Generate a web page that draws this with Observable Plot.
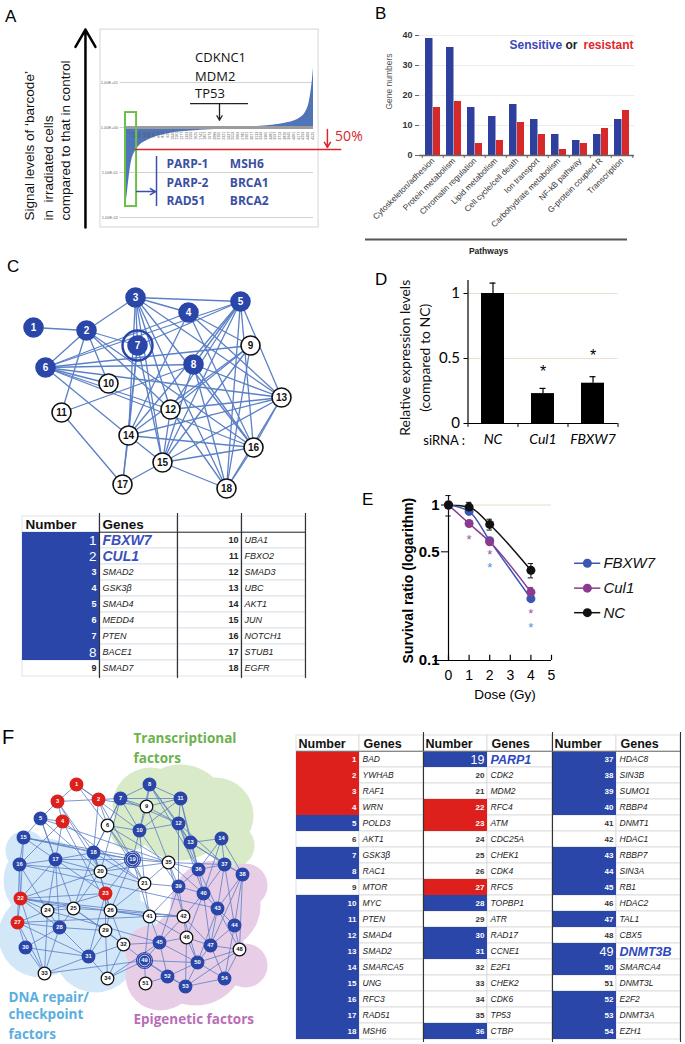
<!DOCTYPE html>
<html><head><meta charset="utf-8">
<script src="https://cdn.jsdelivr.net/npm/d3@7"></script>
<script src="https://cdn.jsdelivr.net/npm/@observablehq/plot@0.6"></script>
<style>
body{margin:0;background:#fff;}
#root{position:relative;width:685px;height:1044px;overflow:hidden;font-family:'Liberation Sans',Arial,sans-serif;}
.lbl{position:absolute;line-height:1;color:#000;font-family:'Liberation Sans',Arial,sans-serif;}
</style></head>
<body><div id="root"></div>
<script>
// ---------------- DATA ----------------
// Panel A: sorted signal ratios (irradiated / control), position along gene rank (0-100)
const aPos   = [0, 0.8, 1.6, 2.5, 3.5, 4.5, 5.5, 7, 9, 12, 16, 22, 30, 40, 50, 60, 68, 75, 81, 86, 90, 93, 95, 96.5, 97.7, 98.6, 99.3, 100];
const aRatio = [0.018, 0.03, 0.06, 0.12, 0.2, 0.26, 0.31, 0.38, 0.45, 0.53, 0.62, 0.72, 0.8, 0.87, 0.92, 0.97, 1.03, 1.1, 1.17, 1.27, 1.42, 1.65, 1.95, 2.5, 3.6, 6, 10, 21];
const aGridVals = [10, 1, 0.1, 0.01];
const aGridLabels = ["1.00E+01", "1.00E+00", "1.00E-01", "1.00E-02"];
const aIdxLabels = ["1","117","233","349","465","581","697","813","929","1045","1161","1277","1393","1509","1625","1741","1857","1973","2089","2205","2321","2437","2553","2669","2785","2901","3017","3133","3249","3365","3481","3597","3713","3829","3945","4061","4177","4293","4409","4525"];
const aTopGenes = ["CDKNC1", "MDM2", "TP53"];
const aLowGenes = ["PARP-1", "PARP-2", "RAD51", "MSH6", "BRCA1", "BRCA2"];
const aAxisTitle = ["Signal levels of \u2018barcode\u2019", "in  irradiated cells", "compared to that in control"];

// Panel B
const bPathways = ["Cytoskeleton/adhesion","Protein metabolism","Chromatin regulation","Lipid metabolism","Cell cycle/cell death","Ion transport","Carbohydrate metabolism","NF-kB pathway","G-protein coupled R","Transcription"];
const bSensitive = [39, 36, 16, 13, 17, 12, 7, 5, 7, 12];
const bResistant = [16, 18, 4, 5, 11, 7, 2, 4, 9, 15];

// Panel C: network layout (node coordinates) and edges
const cNodeX = [33, 86, 135, 188, 240, 45, 137, 193, 250, 108, 61, 170, 281, 128, 162, 253, 122, 226];
const cNodeY = [327, 330, 297, 312, 301, 367, 345, 364, 345, 383, 412, 409, 397, 435, 462, 447, 484, 488];
const cEdges = [[1,2],[2,3],[2,6],[2,7],[2,10],[2,11],[2,12],[2,16],[3,5],[3,4],[3,7],[3,12],[3,13],[3,15],[3,16],[3,18],[3,14],[4,6],[4,9],[4,14],[4,16],[4,13],[5,6],[5,7],[5,8],[5,12],[5,13],[5,14],[5,15],[5,16],[5,18],[6,8],[6,9],[6,10],[6,13],[6,14],[6,16],[6,12],[7,14],[7,15],[7,17],[8,11],[8,13],[8,15],[8,16],[8,18],[9,12],[9,14],[9,15],[9,18],[11,17],[12,13],[12,15],[12,18],[13,14],[13,15],[13,16],[13,18],[14,15],[14,16],[14,17],[15,16],[15,17],[15,18],[16,18]];
const cGenes = ["FBXW7","CUL1","SMAD2","GSK3\u03b2","SMAD4","MEDD4","PTEN","BACE1","SMAD7","UBA1","FBXO2","SMAD3","UBC","AKT1","JUN","NOTCH1","STUB1","EGFR"];
const cClass = "SSSSSSSSNNNNNNNNNN".split("");   // S = sensitive, N = not
const cHighlight = [1, 2];
const cRinged = [7];
const cBigNumbers = [1, 2, 8];

// Panel D
const dGroups = ["NC", "Cul1", "FBXW7"];
const dMean = [1.0, 0.23, 0.31];
const dErr = [0.08, 0.04, 0.05];
const dStar = [null, 0.43, 0.55];

// Panel E
const eDose = [0, 1, 2, 4];
const eSeries = ["FBXW7", "Cul1", "NC"];
const eFBXW7 = [1, 0.91, 0.59, 0.25];
const eCul1 = [1, 0.76, 0.58, 0.275];
const eNC = [1, 0.97, 0.75, 0.38];
const eNCerr = [0.15, 0.07, 0.06, 0.04];
const eCul1err = [0, 0, 0, 0.02];
const eStarDose = [1, 2, 2, 4, 4];
const eStarY = [0.62, 0.5, 0.41, 0.21, 0.17];
const eStarSeries = ["Cul1", "Cul1", "FBXW7", "Cul1", "FBXW7"];

// Panel F
const fGenes = ["BAD","YWHAB","RAF1","WRN","POLD3","AKT1","GSK3\u03b2","RAC1","MTOR","MYC","PTEN","SMAD4","SMAD2","SMARCA5","UNG","RFC3","RAD51","MSH6",
  "PARP1","CDK2","MDM2","RFC4","ATM","CDC25A","CHEK1","CDK4","RFC5","TOPBP1","ATR","RAD17","CCNE1","E2F1","CHEK2","CDK6","TP53","CTBP",
  "HDAC8","SIN3B","SUMO1","RBBP4","DNMT1","HDAC1","RBBP7","SIN3A","RB1","HDAC2","TAL1","CBX5","DNMT3B","SMARCA4","DNMT3L","E2F2","DNMT3A","EZH1"];
const fClass = ("RRRRSNSSNSSSSSSSSS" + "SNNRRNNNRSNSSNNNNS" + "SSSSNNSSSNSNSSNSSS").split(""); // R resistant, S sensitive, N none
const fHighlight = [19, 49];
const fNodeX = [76, 98, 57, 62, 40, 107, 120, 149, 146, 139, 180, 178, 190, 221, 23, 19, 55, 93, 132, 100, 144, 20, 105, 47, 73, 110, 17, 59, 105, 25, 88, 123, 44, 107, 168, 198, 224, 242, 178, 203, 149, 183, 217, 234, 159, 186, 210, 239, 144, 197, 145, 167, 185, 224];
const fNodeY = [784, 799, 801, 821, 818, 825, 798, 784, 806, 830, 798, 823, 842, 838, 837, 864, 859, 852, 859, 871, 883, 898, 893, 910, 908, 910, 922, 927, 930, 947, 956, 944, 973, 978, 862, 869, 864, 874, 886, 893, 916, 916, 908, 925, 942, 937, 945, 949, 960, 962, 983, 976, 986, 978];
const fEdges = [[1,2],[1,3],[1,6],[1,10],[2,3],[2,7],[2,6],[2,9],[2,19],[2,18],[3,4],[3,5],[3,18],[3,20],[4,5],[4,17],[4,16],[4,21],[4,26],[5,15],[5,17],[5,20],[5,35],[5,25],
[6,7],[6,19],[6,21],[6,35],[6,10],[6,18],[7,8],[7,9],[7,10],[7,11],[7,12],[7,18],[7,20],[8,9],[8,11],[8,12],[8,10],[8,13],[8,36],[9,11],[9,12],[9,10],[9,35],[10,11],[10,12],[10,19],[10,21],[10,39],[11,12],[11,13],[11,36],[12,13],[12,36],[12,39],[12,40],[12,37],[13,36],[13,14],[13,37],[13,38],[14,37],[14,38],[14,36],[14,40],
[15,16],[15,17],[15,22],[15,18],[15,19],[16,17],[16,22],[16,24],[16,20],[16,27],[17,18],[17,20],[17,23],[17,24],[17,28],[17,19],[17,22],[18,19],[18,20],[18,21],[18,23],[18,25],[18,26],[19,20],[19,21],[19,35],[19,26],[19,23],[19,41],[20,22],[20,25],[20,21],[20,35],[21,35],[21,41],[21,39],[21,26],[22,23],[22,24],[22,27],[22,28],[22,25],[22,33],[22,41],[23,26],[23,24],[23,29],[23,31],[24,27],[24,28],[24,25],[24,33],[25,26],[25,28],[25,29],[25,32],[26,41],[26,32],[26,29],[26,42],[27,28],[27,30],[27,33],[27,31],[28,31],[28,33],[28,29],[28,30],[29,32],[29,31],[29,34],[30,33],[30,31],[31,33],[31,34],[31,32],[32,34],[32,45],[32,49],[34,49],[34,45],
[35,36],[35,39],[35,40],[35,42],[35,37],[36,37],[36,40],[36,43],[36,39],[37,38],[37,43],[37,40],[37,44],[38,43],[38,44],[38,48],[38,47],[39,40],[39,42],[39,45],[39,41],[40,43],[40,42],[40,46],[40,47],[41,42],[41,45],[41,49],[41,46],[42,46],[42,45],[42,47],[42,50],[43,44],[43,47],[43,48],[43,50],[44,48],[44,47],[44,54],[45,49],[45,46],[45,50],[45,52],[46,47],[46,50],[46,53],[47,48],[47,50],[47,54],[48,54],[48,50],[48,53],[49,51],[49,52],[49,53],[49,50],[50,52],[50,53],[50,54],[51,52],[52,53],[53,54],[16,43],[22,42],[27,41],[15,35],[24,45],[33,49]];
const fGroupLabels = ["Transcriptional", "factors", "DNA repair/", "checkpoint", "factors", "Epigenetic factors"];

// ---------------- STYLE / LAYOUT ----------------
const root = document.getElementById("root");
const FONT = "'Liberation Sans', Arial, sans-serif";
const OPEN = "'Open Sans', sans-serif";
const base = {fontFamily: FONT, background: "transparent", overflow: "visible"};
const BLUE = "#2a46a8", RED = "#dd201c", EDGE = "#5b80c6";
const clsFill = c => c === "S" ? BLUE : c === "R" ? RED : "#fff";
function place(svg, left, top) {
  svg.style.position = "absolute"; svg.style.left = left + "px"; svg.style.top = top + "px";
  root.appendChild(svg);
}
function letter(t, left, top, size) {
  const d = document.createElement("div"); d.className = "lbl"; d.textContent = t;
  d.style.left = left + "px"; d.style.top = top + "px"; d.style.fontSize = size + "px";
  root.appendChild(d);
}

// ---------------- PANEL A ----------------
const aData = aPos.map((p, i) => ({pos: p, ratio: aRatio[i]}));
place(Plot.plot({
  width: 345, height: 240, marginLeft: 125, marginRight: 32, marginTop: 37, marginBottom: 23,
  x: {domain: [0, 100], axis: null},
  y: {type: "log", domain: [0.01, 100], axis: null},
  style: base,
  marks: [
    Plot.rect([0], {x1: -13.3, x2: 102.7, y1: 0.006, y2: 150, fill: "none", stroke: "#d4d4d4"}),
    Plot.ruleY(aGridVals, {x1: -3, x2: 100, stroke: "#c6c6c6", strokeWidth: 0.8}),
    Plot.text(aGridVals, {x: -4, y: d => d, text: (d, i) => aGridLabels[i], textAnchor: "end", fontSize: 4, fill: "#666"}),
    Plot.areaY(aData, {x: "pos", y1: 1, y2: "ratio", fill: "#4f74b8", curve: "monotone-x"}),
    Plot.ruleY([1], {x1: 0, x2: 100, stroke: "#9c9c9c", strokeWidth: 3}),
    Plot.text(aIdxLabels, {x: (d, i) => 2.7 + i * 2.48, y: 0.8, text: d => d, rotate: -90, textAnchor: "end", fontSize: 3.6, fill: "#555"}),
    Plot.rect([0], {x1: 0, x2: 5.9, y1: 0.0175, y2: 2.15, fill: "none", stroke: "#6cc04a", strokeWidth: 2}),
    Plot.ruleY([0.325], {x1: 5.3, x2: 115, stroke: "#d9262b", strokeWidth: 1.5}),
    Plot.arrow([0], {x1: 107.4, y1: 0.9, x2: 107.4, y2: 0.36, stroke: "#d9262b", strokeWidth: 1.5, headLength: 7}),
    Plot.text(["50%"], {x: 111.5, y: 0.63, text: d => d, fill: "#d9262b", fontSize: 14, textAnchor: "start", fontFamily: OPEN}),
    Plot.text(aTopGenes, {x: 37, y: (d, i) => [36, 13.6, 5.6][i], text: d => d, textAnchor: "start", fontSize: 13, fontFamily: OPEN, fill: "#111"}),
    Plot.ruleY([3.4], {x1: 34.6, x2: 65.4, stroke: "#222", strokeWidth: 1.3}),
    Plot.arrow([0], {x1: 50, y1: 3.4, x2: 50, y2: 1.45, stroke: "#222", strokeWidth: 1.3, headLength: 6}),
    Plot.arrow([0], {x1: 5.9, y1: 0.0377, x2: 16, y2: 0.0377, stroke: "#3a50a8", strokeWidth: 1.5, headLength: 6}),
    Plot.ruleX([16.5], {y1: 0.0175, y2: 0.227, stroke: "#3a50a8", strokeWidth: 1.5}),
    Plot.text(aLowGenes, {x: (d, i) => i < 3 ? 21.8 : 55.5, y: (d, i) => [0.15, 0.058, 0.023][i % 3], text: d => d, textAnchor: "start", fontSize: 12, fontWeight: "bold", fontFamily: OPEN, fill: "#3a4fa3"}),
    Plot.text(aAxisTitle, {x: (d, i) => [-51.1, -41, -31.9][i], y: 0.0086, text: d => d, rotate: -90, textAnchor: "start", fontSize: 13.5, fill: "#111"}),
    Plot.arrow([0], {x1: -21.3, y1: 0.006, x2: -21.3, y2: 150, stroke: "#000", strokeWidth: 2.5, headLength: 12})
  ]
}), 0, 0);

// ---------------- PANEL B ----------------
const bData = bPathways.map((p, i) => ({p, s: bSensitive[i], r: bResistant[i]}));
place(Plot.plot({
  width: 340, height: 270, marginLeft: 74, marginRight: 51, marginTop: 35, marginBottom: 115,
  x: {domain: bPathways, padding: 0},
  y: {domain: [0, 40]},
  style: base,
  marks: [
    Plot.ruleY([10, 20, 30, 40], {stroke: "#ececec"}),
    Plot.barY(bData, {x: "p", y: "s", fill: "#2e3f9e", insetLeft: 3, insetRight: 10.5}),
    Plot.barY(bData, {x: "p", y: "r", fill: "#d62a2a", insetLeft: 11, insetRight: 3}),
    Plot.ruleY([0], {stroke: "#666", strokeWidth: 1.5}),
    Plot.ruleX(bPathways, {x: d => d, y1: 0, y2: -1, dx: -10.75, stroke: "#666"}),
    Plot.ruleX([bPathways[bPathways.length - 1]], {x: d => d, y1: 0, y2: -1, dx: 10.75, stroke: "#666"}),
    Plot.axisY({ticks: [0, 10, 20, 30, 40], tickSize: 4, tickPadding: 3, fontSize: 9, fontWeight: "bold", label: null, stroke: "#666", fill: "#333"}),
    Plot.axisX({tickRotate: -45, tickSize: 0, tickPadding: 4, fontSize: 8.2, label: null, fill: "#333"}),
    Plot.text(["Gene numbers"], {frameAnchor: "left", dx: -30, dy: -14, rotate: -90, textAnchor: "middle", fontSize: 8.5, fill: "#555"}),
    Plot.text(["Sensitive"], {frameAnchor: "top-left", dx: 90, dy: 10, textAnchor: "start", lineAnchor: "middle", fontSize: 12, fontWeight: "bold", fill: "#3a48b8"}),
    Plot.text(["or"], {frameAnchor: "top-left", dx: 146, dy: 10, textAnchor: "start", lineAnchor: "middle", fontSize: 12, fontWeight: "bold", fill: "#222"}),
    Plot.text(["resistant"], {frameAnchor: "top-left", dx: 164, dy: 10, textAnchor: "start", lineAnchor: "middle", fontSize: 12, fontWeight: "bold", fill: "#e0262a"}),
    Plot.ruleY([0], {dy: 84, insetLeft: -54, insetRight: 7, stroke: "#555", strokeWidth: 2}),
    Plot.text(["Pathways"], {frameAnchor: "bottom", dx: -38.5, dy: 98, fontSize: 8.5, fontWeight: "bold", fill: "#222"})
  ]
}), 345, 0);

// ---------------- PANEL C network ----------------
const cNodes = cNodeX.map((x, i) => ({id: i + 1, x, y: cNodeY[i], cls: cClass[i]}));
place(Plot.plot({
  width: 340, height: 225, margin: 0,
  x: {domain: [0, 340], range: [0, 340], axis: null},
  y: {domain: [280, 505], range: [0, 225], axis: null},
  style: base,
  marks: [
    Plot.link(cEdges, {x1: d => cNodeX[d[0] - 1], y1: d => cNodeY[d[0] - 1], x2: d => cNodeX[d[1] - 1], y2: d => cNodeY[d[1] - 1], stroke: EDGE, strokeWidth: 1.3}),
    Plot.dot(cNodes, {x: "x", y: "y", r: 9.5, fill: d => clsFill(d.cls), stroke: d => d.cls === "S" ? BLUE : "#111", strokeWidth: 1.6}),
    Plot.dot(cNodes.filter(d => cRinged.includes(d.id)), {x: "x", y: "y", r: 15, fill: "none", stroke: BLUE, strokeWidth: 2.5}),
    Plot.text(cNodes, {x: "x", y: "y", text: "id", fontSize: 10, fontWeight: "bold", fill: d => d.cls === "S" ? "#fff" : "#111"})
  ]
}), 0, 280);

// ---------------- PANEL C table ----------------
const cCol = [0, 77, 155, 219, 283];
const cCells = cGenes.map((g, i) => ({n: i + 1, g, cls: cClass[i], grp: Math.floor(i / 9), row: i % 9 + 1}));
const cGrid = [];
for (let r = 0; r < 10; r++) for (let c = 0; c < 4; c++) cGrid.push({r, c});
place(Plot.plot({
  width: 283, height: 165, margin: 0,
  x: {domain: [0, 283], range: [0, 283], axis: null},
  y: {type: "band", domain: d3.range(10), padding: 0, axis: null},
  style: base,
  marks: [
    Plot.barX(cGrid, {x1: d => cCol[d.c], x2: d => cCol[d.c + 1], y: "r", fill: "#fff", stroke: "#d4dbe8", strokeWidth: 0.8}),
    Plot.barX(cCells.filter(d => d.cls === "S"), {x1: d => cCol[2 * d.grp], x2: d => cCol[2 * d.grp + 1], y: "row", fill: BLUE}),
    Plot.ruleX([77, 155, 219, 283], {stroke: "#333", strokeWidth: 1.2}),
    Plot.ruleY([1], {dy: -8.25, x1: 77, x2: 283, stroke: "#333", strokeWidth: 1.2}),
    Plot.text(["Number", "Genes"], {x: (d, i) => i === 0 ? 3 : 80, y: 0, text: d => d, textAnchor: "start", fontSize: 13.5, fontWeight: "bold", fill: "#111"}),
    Plot.text(cCells.filter(d => !cBigNumbers.includes(d.n)), {x: d => cCol[2 * d.grp + 1] - 3, y: "row", text: "n", textAnchor: "end", fontSize: 9, fontWeight: "bold", fill: d => d.cls === "S" ? "#fff" : "#222"}),
    Plot.text(cCells.filter(d => cBigNumbers.includes(d.n)), {x: d => cCol[2 * d.grp + 1] - 3, y: "row", text: "n", textAnchor: "end", fontSize: 13.5, fill: "#fff"}),
    Plot.text(cCells.filter(d => !cHighlight.includes(d.n)), {x: d => cCol[2 * d.grp + 1] + 3, y: "row", text: "g", textAnchor: "start", fontSize: 9, fontStyle: "italic", fill: "#222"}),
    Plot.text(cCells.filter(d => cHighlight.includes(d.n)), {x: d => cCol[2 * d.grp + 1] + 3, y: "row", text: "g", textAnchor: "start", fontSize: 14, fontStyle: "italic", fontWeight: "bold", fill: "#3a4fc0"})
  ]
}), 22, 513);

// ---------------- PANEL D ----------------
const dData = dGroups.map((g, i) => ({g, m: dMean[i], e: dErr[i], s: dStar[i]}));
place(Plot.plot({
  width: 345, height: 190, marginLeft: 127.5, marginRight: 67.5, marginTop: 3.5, marginBottom: 37,
  x: {domain: dGroups, paddingInner: 0.54, paddingOuter: 0.27, axis: null},
  y: {domain: [0, 1.15]},
  style: {...base, fontFamily: "Lato, 'Open Sans', sans-serif"},
  marks: [
    Plot.ruleY([0.5, 1], {stroke: "#e9e2c9"}),
    Plot.barY(dData, {x: "g", y: "m", fill: "#000"}),
    Plot.ruleX(dData, {x: "g", y1: "m", y2: d => d.m + d.e, stroke: "#000", strokeWidth: 1.2}),
    Plot.tickY(dData, {x: "g", y: d => d.m + d.e, insetLeft: 8.5, insetRight: 8.5, strokeWidth: 1.2}),
    Plot.text(dData.filter(d => d.s != null), {x: "g", y: "s", text: () => "*", fontSize: 16, dy: 4, fontFamily: FONT}),
    Plot.ruleY([0], {stroke: "#000", strokeWidth: 1.2}),
    Plot.ruleX([dGroups[0]], {x: d => d, y1: 0, y2: 1.1, dx: -25, stroke: "#000", strokeWidth: 1.2}),
    Plot.ruleX(dGroups, {x: d => d, y1: 0, y2: -0.03, dx: -25, stroke: "#000"}),
    Plot.ruleX([dGroups[2]], {x: d => d, y1: 0, y2: -0.03, dx: 25, stroke: "#000"}),
    Plot.axisY({ticks: [0, 0.5, 1], tickFormat: d => String(d), tickSize: 4, tickPadding: 4, fontSize: 15, label: null}),
    Plot.text(dGroups, {x: d => d, frameAnchor: "bottom", dy: 20, text: d => d, fontStyle: "italic", fontSize: 14}),
    Plot.text(["siRNA :"], {frameAnchor: "bottom-left", dx: -3, dy: 21, textAnchor: "end", fontSize: 13}),
    Plot.text(["Relative expression levels"], {frameAnchor: "left", dx: -62, dy: 9, rotate: -90, textAnchor: "middle", fontSize: 14, fill: "#111"}),
    Plot.text(["(compared to NC)"], {frameAnchor: "left", dx: -42, dy: 9, rotate: -90, textAnchor: "middle", fontSize: 14, fill: "#111"})
  ]
}), 340, 270);

// ---------------- PANEL E ----------------
const eVals = {FBXW7: eFBXW7, Cul1: eCul1, NC: eNC};
const eColor = {FBXW7: "#3b55b5", Cul1: "#8a3a8f", NC: "#111"};
const eLong = eSeries.flatMap(s => eDose.map((d, i) => ({s, dose: d, v: eVals[s][i]})));
const eErrs = [
  ...eDose.map((d, i) => ({s: "NC", dose: d, v: eNC[i], e: eNCerr[i]})),
  ...eDose.map((d, i) => ({s: "Cul1", dose: d, v: eCul1[i], e: eCul1err[i]})).filter(d => d.e > 0)
];
const eStars = eStarDose.map((d, i) => ({dose: d, y: eStarY[i], s: eStarSeries[i]}));
const eLegY = [0.422, 0.292, 0.203];
place(Plot.plot({
  width: 345, height: 230, marginLeft: 108, marginRight: 134, marginTop: 12.2, marginBottom: 50,
  x: {domain: [0, 5]},
  y: {type: "log", domain: [0.1, 1.2]},
  style: base,
  marks: [
    Plot.ruleY([1], {x1: 0, x2: 5, stroke: "#e6dfc6"}),
    Plot.ruleX([0], {y1: 0.1, y2: 1.13, stroke: "#000", strokeWidth: 1.2}),
    Plot.ruleY([0.1], {x1: -0.68, x2: 5, stroke: "#000", strokeWidth: 1.2}),
    Plot.ruleX([0, 1, 2, 3, 4, 5], {y1: 0.1, y2: 0.108, stroke: "#000", strokeWidth: 1.2}),
    Plot.axisY({ticks: [0.1, 0.5, 1], tickFormat: d => String(d), tickSize: 7, tickPadding: 2, fontSize: 15, fontWeight: "bold", label: null}),
    Plot.axisX({ticks: [0, 1, 2, 3, 4, 5], tickFormat: d => String(d), tickSize: 0, tickPadding: 10, fontSize: 14, label: null}),
    Plot.ruleX(eErrs, {x: "dose", y1: d => d.v - d.e, y2: d => d.v + d.e, stroke: d => eColor[d.s], strokeWidth: 1}),
    Plot.ruleY(eErrs, {y: d => d.v + d.e, x1: d => d.dose - 0.13, x2: d => d.dose + 0.13, stroke: d => eColor[d.s], strokeWidth: 1}),
    Plot.ruleY(eErrs, {y: d => d.v - d.e, x1: d => d.dose - 0.13, x2: d => d.dose + 0.13, stroke: d => eColor[d.s], strokeWidth: 1}),
    Plot.line(eLong.filter(d => d.s === "NC"), {x: "dose", y: "v", stroke: eColor.NC, strokeWidth: 1.5, curve: "monotone-x"}),
    Plot.line(eLong.filter(d => d.s === "FBXW7"), {x: "dose", y: "v", stroke: eColor.FBXW7, strokeWidth: 1.5, curve: "monotone-x"}),
    Plot.line(eLong.filter(d => d.s === "Cul1"), {x: "dose", y: "v", stroke: eColor.Cul1, strokeWidth: 1.5, curve: "monotone-x"}),
    Plot.dot(eLong, {x: "dose", y: "v", r: 4.5, fill: d => eColor[d.s]}),
    Plot.text(eStars, {x: "dose", y: "y", text: () => "*", fill: d => d.s === "Cul1" ? "#9a4fb0" : "#4a90d9", fontSize: 13, dy: 3}),
    Plot.ruleY(eSeries, {y: (d, i) => eLegY[i], x1: 6.12, x2: 7.39, stroke: d => eColor[d], strokeWidth: 1.5}),
    Plot.dot(eSeries, {x: 6.74, y: (d, i) => eLegY[i], r: 4.5, fill: d => eColor[d]}),
    Plot.text(eSeries, {x: 7.52, y: (d, i) => eLegY[i], text: d => d, textAnchor: "start", fontStyle: "italic", fontSize: 15, fill: "#111"}),
    Plot.text(["Dose (Gy)"], {frameAnchor: "bottom", dx: 5, dy: 38, fontSize: 13.5}),
    Plot.text(["Survival ratio (logarithm)"], {frameAnchor: "left", dx: -40, dy: 4, rotate: -90, textAnchor: "middle", fontSize: 14, fontWeight: "bold"})
  ]
}), 340, 480);

// ---------------- PANEL F network ----------------
const fNodes = fNodeX.map((x, i) => ({id: i + 1, x, y: fNodeY[i], cls: fClass[i]}));
const blobs = [
  ...[[180, 812, 48], [150, 805, 38], [215, 815, 38], [232, 845, 22], [130, 830, 20]].map(b => ({b, c: "#d8eac7"})),
  ...[[45, 880, 42], [40, 935, 42], [90, 900, 50], [95, 950, 42], [128, 925, 28], [25, 850, 20]].map(b => ({b, c: "#d2e7f8"})),
  ...[[215, 905, 45], [195, 955, 50], [160, 975, 35], [245, 965, 22], [245, 885, 22], [150, 950, 25]].map(b => ({b, c: "#e8cde7"}))
];
const fLabelPos = [[133, 738.5, "#6cb24e"], [133, 758, "#6cb24e"], [8, 997, "#5aaee0"], [8, 1014, "#5aaee0"], [8, 1034, "#5aaee0"], [133, 1019, "#b96db9"]];
place(Plot.plot({
  width: 290, height: 324, margin: 0,
  x: {domain: [0, 290], range: [0, 290], axis: null},
  y: {domain: [720, 1044], range: [0, 324], axis: null},
  r: {type: "identity"},
  style: base,
  marks: [
    Plot.dot(blobs, {x: d => d.b[0], y: d => d.b[1], r: d => d.b[2], fill: d => d.c}),
    Plot.link(fEdges, {x1: d => fNodeX[d[0] - 1], y1: d => fNodeY[d[0] - 1], x2: d => fNodeX[d[1] - 1], y2: d => fNodeY[d[1] - 1], stroke: EDGE, strokeWidth: 0.9, strokeOpacity: 0.9}),
    Plot.dot(fNodes, {x: "x", y: "y", r: 6.3, fill: d => clsFill(d.cls), stroke: d => d.cls === "N" ? "#111" : clsFill(d.cls), strokeWidth: 1.3}),
    Plot.dot(fNodes.filter(d => fHighlight.includes(d.id)), {x: "x", y: "y", r: 5.2, fill: "none", stroke: "#fff", strokeWidth: 0.7}),
    Plot.dot(fNodes.filter(d => fHighlight.includes(d.id)), {x: "x", y: "y", r: 8, fill: "none", stroke: BLUE, strokeWidth: 1.2}),
    Plot.text(fNodes, {x: "x", y: "y", text: "id", fontSize: 5.8, fontWeight: "bold", fill: d => d.cls === "N" ? "#111" : "#fff"}),
    Plot.text(fGroupLabels, {x: (d, i) => fLabelPos[i][0], y: (d, i) => fLabelPos[i][1], text: d => d, fill: (d, i) => fLabelPos[i][2], textAnchor: "start", fontSize: 13.5, fontWeight: "bold", fontFamily: OPEN})
  ]
}), 0, 720);

// ---------------- PANEL F table ----------------
const fCol = [0, 63, 127, 191, 256, 320, 384];
const fCells = fGenes.map((g, i) => ({n: i + 1, g, cls: fClass[i], grp: Math.floor(i / 18), row: i % 18 + 1}));
const fGrid = [];
for (let r = 0; r < 19; r++) for (let c = 0; c < 6; c++) fGrid.push({r, c});
place(Plot.plot({
  width: 386, height: 310, margin: 0,
  x: {domain: [0, 386], range: [0, 386], axis: null},
  y: {type: "band", domain: d3.range(19), padding: 0, axis: null},
  style: base,
  marks: [
    Plot.barX(fGrid, {x1: d => fCol[d.c], x2: d => fCol[d.c + 1], y: "r", fill: "#fff", stroke: "#d8d8d8", strokeWidth: 0.8}),
    Plot.barX(fCells.filter(d => d.cls !== "N"), {x1: d => fCol[2 * d.grp], x2: d => fCol[2 * d.grp + 1], y: "row", fill: d => clsFill(d.cls)}),
    Plot.ruleX([127, 256, 384], {stroke: "#333", strokeWidth: 1.1}),
    Plot.ruleY([1], {dy: -8.15, x1: 0, x2: 384, stroke: "#777", strokeWidth: 1}),
    Plot.text([0, 1, 2, 3, 4, 5], {x: d => fCol[d] + (d % 2 ? 4 : 2), y: 0, text: d => d % 2 ? "Genes" : "Number", textAnchor: "start", fontSize: 12.5, fontWeight: "bold", fill: "#111"}),
    Plot.text(fCells.filter(d => !fHighlight.includes(d.n)), {x: d => fCol[2 * d.grp + 1] - 3, y: "row", text: "n", textAnchor: "end", fontSize: 8, fontWeight: "bold", fill: d => d.cls === "N" ? "#333" : "#fff"}),
    Plot.text(fCells.filter(d => fHighlight.includes(d.n)), {x: d => fCol[2 * d.grp + 1] - 3, y: "row", text: "n", textAnchor: "end", fontSize: 12.5, fill: "#fff"}),
    Plot.text(fCells.filter(d => !fHighlight.includes(d.n)), {x: d => fCol[2 * d.grp + 1] + 3, y: "row", text: "g", textAnchor: "start", fontSize: 8.5, fontStyle: "italic", fill: "#222"}),
    Plot.text(fCells.filter(d => fHighlight.includes(d.n)), {x: d => fCol[2 * d.grp + 1] + 3, y: "row", text: "g", textAnchor: "start", fontSize: 12.5, fontStyle: "italic", fontWeight: "bold", fill: "#2e48c0"})
  ]
}), 296, 732);

// ---------------- Panel letters ----------------
letter("A", 5, 8, 17); letter("B", 375, 5, 17); letter("C", 7, 258, 17);
letter("D", 375, 271, 17); letter("E", 362, 491, 17); letter("F", 2, 727, 20);
</script></body></html>
